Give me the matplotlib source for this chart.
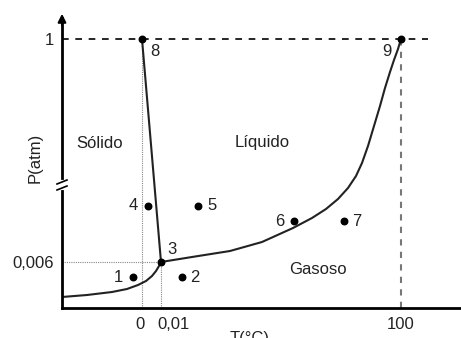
import matplotlib
matplotlib.use("Agg")
import matplotlib.pyplot as plt

plt.rcParams['font.family'] = ['Liberation Sans', 'DejaVu Sans']

# schematic coordinates (diagram is not to scale)
x_ticks = [80, 99, 339]
x_tick_labels = ["0", "0,01", "100"]
x_label_ha = ["center", "left", "center"]
x_label_dx = [-2, -4, 0]
y_ticks = [269, 46]
y_tick_labels = ["1", "0,006"]

# curves
subl_x = [0, 25, 50, 65, 76, 84, 90, 94, 97, 99]
subl_y = [11, 13, 16, 19, 23, 27, 32, 37, 42, 46]
melt_x = [80, 99]
melt_y = [269, 46]
vap_x = [99, 130, 168, 200, 231, 250, 264, 276, 286, 294, 300, 306, 312, 318, 323, 328, 332, 336, 339]
vap_y = [46, 51, 57, 66, 80, 90, 99, 109, 120, 132, 145, 162, 182, 202, 220, 236, 248, 259, 269]

# numbered states
pt_labels = ["1", "2", "3", "4", "5", "6", "7", "8", "9"]
pt_x = [71, 120, 99, 86, 136, 232, 282, 80, 339]
pt_y = [31, 31, 46, 102, 102, 87, 87, 269, 269]
lbl_dx = [-15, 13, 11, -15, 14, -14, 13, 13, -14]
lbl_dy = [0, 0, 13, 0, 0, 0, 0, -12, -12]

regions = ["Sólido", "Líquido", "Gasoso"]
reg_x = [38, 200, 256]
reg_y = [165, 165, 38]

fig = plt.figure(figsize=(4.61, 3.38), dpi=100)
ax = fig.add_axes([62 / 461, 30 / 338, 399 / 461, 296 / 338])
ax.set_xlim(0, 399)
ax.set_ylim(0, 296)

for s in ["top", "right"]:
    ax.spines[s].set_visible(False)
ax.spines["left"].set_linewidth(2)
ax.spines["bottom"].set_linewidth(2)
ax.spines["left"].set_bounds(0, 290)

# arrow on y axis
ax.annotate("", xy=(0, 297), xytext=(0, 280),
            arrowprops=dict(arrowstyle="-|>", color="black", lw=1.5,
                            mutation_scale=12),
            annotation_clip=False)

# axis break mark
ax.plot([0, 0], [120, 126], color="white", lw=3, zorder=3, clip_on=False)
for dy in (-3, 3):
    ax.plot([-5, 5], [123 + dy - 2, 123 + dy + 2], color="black", lw=1.2,
            clip_on=False, zorder=4)

# guide lines
ax.plot([0, 366], [269, 269], ls=(0, (4, 4)), color="black", lw=1.2)
ax.plot([339, 339], [0, 269], ls=(0, (3, 3)), color="#777777", lw=1.5)
ax.plot([80, 80], [0, 269], ls=(0, (1, 1)), color="#888888", lw=0.8)
ax.plot([99, 99], [0, 46], ls=(0, (1, 1)), color="#888888", lw=0.8)
ax.plot([0, 99], [46, 46], ls=(0, (1, 1)), color="#888888", lw=0.8)

# phase boundaries
ax.plot(subl_x, subl_y, color="#222222", lw=1.5)
ax.plot(melt_x, melt_y, color="#222222", lw=1.5)
ax.plot(vap_x, vap_y, color="#222222", lw=1.5)

ax.scatter(pt_x, pt_y, s=22, color="black", zorder=5)
for lab, x, y, dx, dy in zip(pt_labels, pt_x, pt_y, lbl_dx, lbl_dy):
    ax.text(x + dx, y + dy, lab, fontsize=12, ha="center", va="center",
            color="#222222")

for r, x, y in zip(regions, reg_x, reg_y):
    ax.text(x, y, r, fontsize=12, ha="center", va="center", color="#222222")

ax.set_xticks(x_ticks)
ax.set_xticklabels([])
for t, lab, ha, dx in zip(x_ticks, x_tick_labels, x_label_ha, x_label_dx):
    ax.text(t + dx, -9, lab, fontsize=12, ha=ha, va="top", color="#222222",
            clip_on=False)
ax.set_yticks(y_ticks)
ax.set_yticklabels(y_tick_labels, fontsize=12, color="#222222")
ax.tick_params(length=0, pad=6)

ax.text(-27, 150, "P(atm)", rotation=90, fontsize=12, ha="center",
        va="center", color="#222222")
ax.text(188, -23, "T(°C)", fontsize=12, ha="center", va="top",
        color="#222222", clip_on=False)

fig.savefig("out.png", dpi=100)
